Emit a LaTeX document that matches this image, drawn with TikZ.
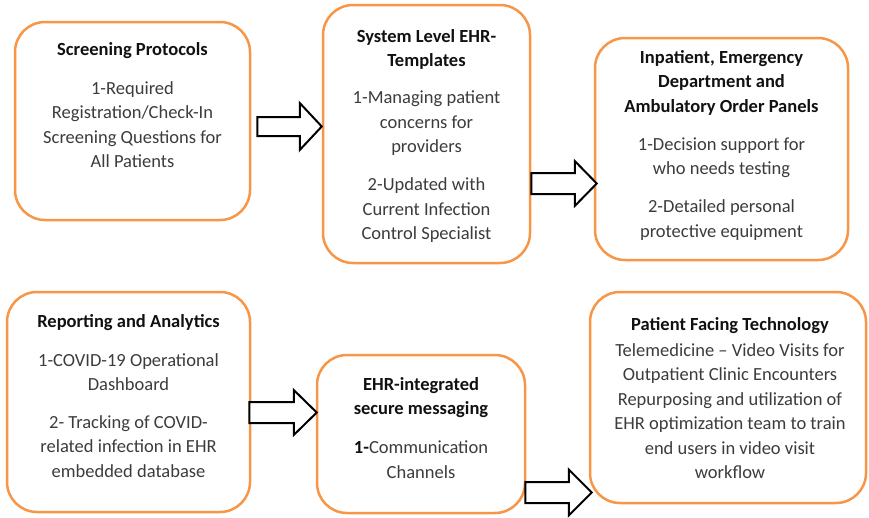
\documentclass[tikz,border=0pt]{standalone}
\usepackage{fontspec}
\setmainfont{Carlito}
\usetikzlibrary{calc}
\definecolor{boxorange}{HTML}{F79646}
\definecolor{bodygray}{HTML}{3C3C3C}
\definecolor{titlecol}{HTML}{111111}
\newcommand\ttl[1]{{\bfseries\color{titlecol}#1}}
\newcommand\blockarrow[5]{%
  \draw[barrow] let \p1=#1, \p2=#2 in
    (\x1,\y1+#4) -- (\x2-#3,\y1+#4) -- (\x2-#3,\y1+#5) -- (\x2,\y1)
    -- (\x2-#3,\y1-#5) -- (\x2-#3,\y1-#4) -- (\x1,\y1-#4) -- cycle;}
\begin{document}
\begin{tikzpicture}[x=1pt,y=-1pt,
  box/.style={draw=boxorange, line width=2.5pt, rounded corners=30pt, fill=white, inner sep=0pt},
  txt/.style={align=center, font=\fontsize{18.5}{24.5}\selectfont, text=bodygray, anchor=north, inner sep=0pt},
  barrow/.style={draw=black, line width=2pt, fill=white, line join=miter}]
\useasboundingbox (0,0) rectangle (869,517);
% boxes
\node[box, minimum width=235pt, minimum height=198pt] (b1) at (132.5,121) {};
\node[box, minimum width=207pt, minimum height=258pt] (b2) at (426.5,134) {};
\node[box, minimum width=253pt, minimum height=222pt] (b3) at (721.5,149) {};
\node[box, minimum width=243pt, minimum height=220pt] (b4) at (128.5,402) {};
\node[box, minimum width=208pt, minimum height=158pt] (b5) at (421,434) {};
\node[box, minimum width=276pt, minimum height=211pt] (b6) at (728,397.5) {};
% texts
\node[txt] (t1) at (132.5,38) {\strut\ttl{Screening Protocols}\\[14.5pt]
  1-Required\\ Registration/Check-In\\ Screening Questions for\\ All Patients};
\node[txt] (t2) at (426.5,25) {\strut\ttl{System Level EHR-}\\ \ttl{Templates}\\[12.5pt]
  1-Managing patient\\ concerns for\\ providers\\[13.5pt]
  2-Updated with\\ Current Infection\\ Control Specialist};
\node[txt] (t3) at (721.5,46) {\strut\ttl{Inpatient, Emergency}\\ \ttl{Department and}\\ \ttl{Ambulatory Order Panels}\\[13.5pt]
  1-Decision support for\\ who needs testing\\[13.5pt]
  2-Detailed personal\\ protective equipment};
\node[txt] (t4) at (128.5,310) {\strut\ttl{Reporting and Analytics}\\[14.5pt]
  1-COVID-19 Operational\\ Dashboard\\[13pt]
  2- Tracking of COVID-\\ related infection in EHR\\ embedded database};
\node[txt] (t5) at (421,373) {\strut\ttl{EHR-integrated}\\ \ttl{secure messaging}\\[14.5pt]
  \ttl{1-}Communication\\ Channels};
\node[txt] (t6) at (730,313) {\strut\ttl{Patient Facing Technology}\\[1.5pt]
  Telemedicine -- Video Visits for\\ Outpatient Clinic Encounters\\
  Repurposing and utilization of\\ EHR optimization team to train\\
  end users in video visit\\ workflow};
% arrow levels
\coordinate (c1) at (0,126.5);
\coordinate (c2) at (0,183.5);
\coordinate (c3) at (0,412.5);
\coordinate (c4) at (0,492.5);
\blockarrow{($(b1.east |- c1)+(6,0)$)}{(b2.west |- c1)}{22pt}{9.5pt}{23.5pt}
\blockarrow{(b2.east |- c2)}{($(b3.west |- c2)+(3,0)$)}{22pt}{10.5pt}{22.5pt}
\blockarrow{($(b4.east |- c3)+(-2,0)$)}{($(b5.west |- c3)+(1,0)$)}{23pt}{10.5pt}{22.5pt}
\blockarrow{($(b5.east |- c4)+(-1,0)$)}{($(b6.west |- c4)+(3,0)$)}{23pt}{10.5pt}{23pt}
\end{tikzpicture}
\end{document}
